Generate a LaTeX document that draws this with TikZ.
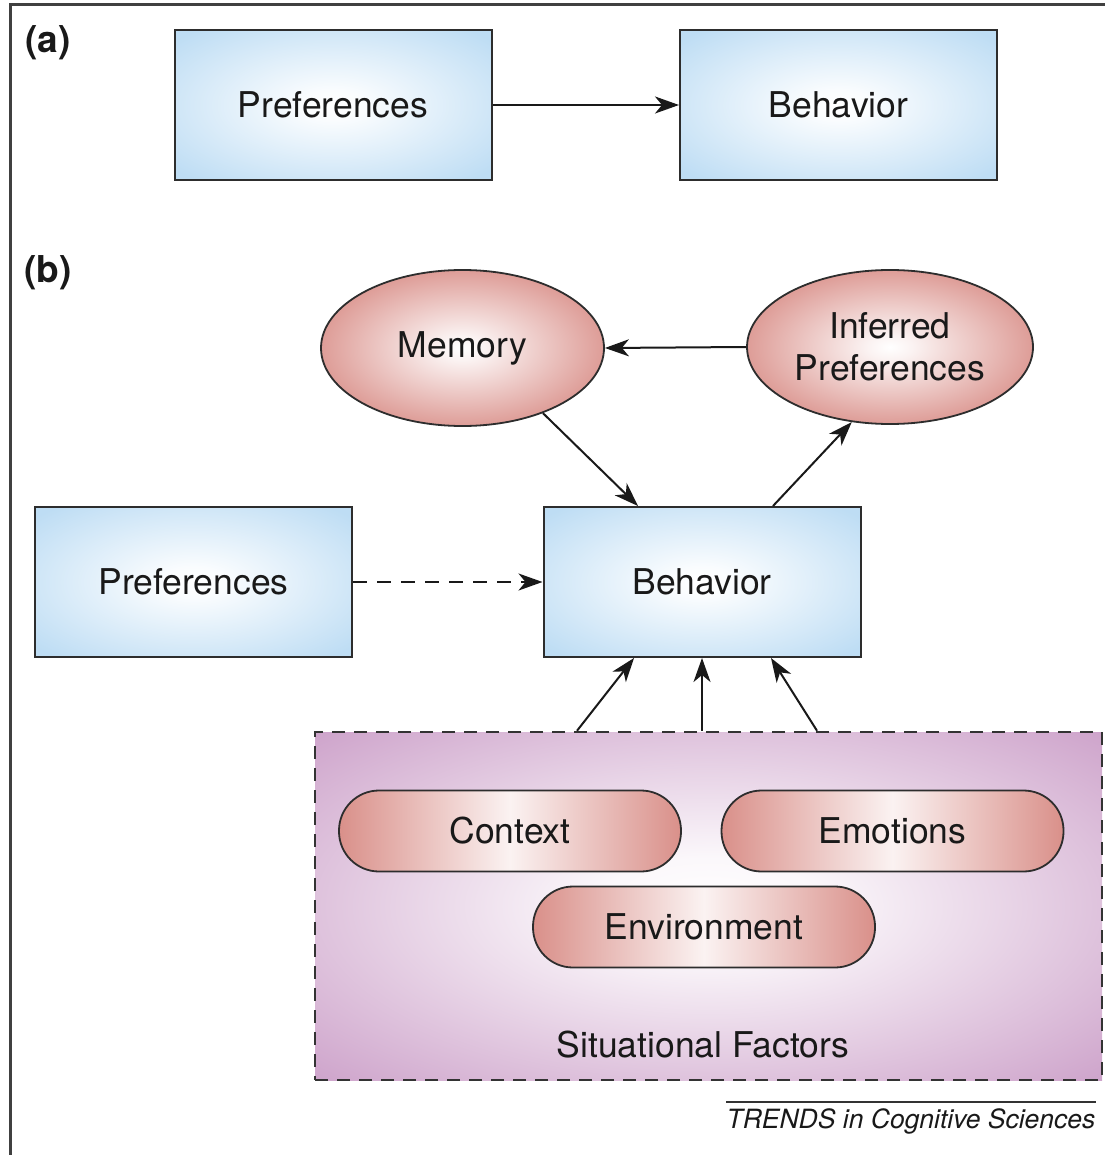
\documentclass[tikz,border=0pt]{standalone}
\usepackage{fontspec}
\setmainfont{TeX Gyre Heros}
\usetikzlibrary{arrows.meta,calc,shapes.geometric}
\definecolor{boxblue}{RGB}{190,221,244}
\definecolor{salm}{RGB}{212,128,121}
\definecolor{purp}{RGB}{205,162,202}
\definecolor{edgecol}{RGB}{45,45,45}
\pgfdeclareradialshading{bluerad}{\pgfpointorigin}{color(0bp)=(white); color(5bp)=(white!92!boxblue); color(33bp)=(boxblue); color(50bp)=(boxblue)}
\pgfdeclareradialshading{redrad}{\pgfpointorigin}{color(0bp)=(white); color(4bp)=(white!90!salm); color(32bp)=(salm); color(50bp)=(salm)}
\pgfdeclareradialshading{purprad}{\pgfpointorigin}{color(0bp)=(white); color(7bp)=(white!92!purp); color(36bp)=(purp); color(50bp)=(purp)}
\pgfdeclarehorizontalshading{pillsh}{100bp}{color(0bp)=(salm); color(21bp)=(salm); color(50bp)=(white!90!salm); color(79bp)=(salm); color(100bp)=(salm)}
\tikzset{
  txt/.style={font=\fontsize{35.5}{42}\selectfont, text=black!90},
  bluebox/.style={txt, rectangle, draw=edgecol, line width=2pt, shading=bluerad, minimum width=317pt, minimum height=150pt, inner sep=0pt},
  redell/.style={txt, ellipse, draw=edgecol, line width=1.8pt, shading=redrad, inner sep=0pt, align=center},
  pill/.style={txt, rectangle, rounded corners=40pt, draw=edgecol, line width=1.8pt, shading=pillsh, minimum width=342pt, minimum height=81pt, inner sep=0pt},
  arr/.style={draw=black!90, line width=2pt, -{Stealth[length=24pt, width=17pt, inset=7pt]}},
  lbl/.style={font=\fontsize{37}{40}\selectfont\bfseries, text=black!90},
}
\begin{document}
\begin{tikzpicture}[x=1pt, y=-1pt]
\useasboundingbox (0,0) rectangle (1105,1155);
% frame (top and left only)
\draw[line width=3pt, black!75] (10,1155) -- (10,5) -- (1105,5);

\node[lbl] (la) at (48,43) {(a)};
\node[lbl] (lb) at (48,273) {(b)};

% (a)
\node[bluebox] (prefA) at (333,105) {Preferences};
\node[bluebox] (behA) at (838.5,105) {Behavior};
\draw[arr] (prefA.east) -- (behA.west);

% (b)
\node[redell, minimum width=283pt, minimum height=156pt] (mem) at (462.5,348) {Memory};
\node[redell, minimum width=286pt, minimum height=154pt] (inf) at (890,347) {Inferred\\Preferences};
\node[bluebox] (prefB) at (193.5,582) {Preferences};
\node[bluebox] (behB) at (702,582) {Behavior};

\node[rectangle, draw=black!80, line width=2.5pt, dash pattern=on 13pt off 9pt, shading=purprad, minimum width=787pt, minimum height=348pt] (sit) at (708.5,906) {};
\node[pill] (ctx) at (510,831) {Context};
\node[pill] (emo) at (892.5,831) {Emotions};
\node[pill] (env) at (704,927) {Environment};
\node[txt] (sitlbl) at (703,1045) {Situational Factors};

\draw[arr] (inf.west) -- (mem.east);
\draw[arr] (mem.-39) -- ([xshift=-64pt]behB.north);
\draw[arr] ([xshift=71pt]behB.north) -- (inf.243);
\draw[arr, dash pattern=on 14pt off 10pt] (prefB.east) -- (behB.west);
\draw[arr] ([xshift=-131.5pt]sit.north) -- ([xshift=-68pt]behB.south);
\draw[arr] ([xshift=-6.5pt]sit.north) -- (behB.south);
\draw[arr] ([xshift=108.5pt]sit.north) -- ([xshift=69pt]behB.south);

% credit
\coordinate (cl) at (726,1102);
\coordinate (cr) at (1096,1102);
\draw[line width=1.5pt, black!80] (cl) -- (cr);
\node[font=\fontsize{26.5}{30}\selectfont\itshape, text=black!90] (credit) at (911,1121) {TRENDS in Cognitive Sciences};
\end{tikzpicture}
\end{document}
